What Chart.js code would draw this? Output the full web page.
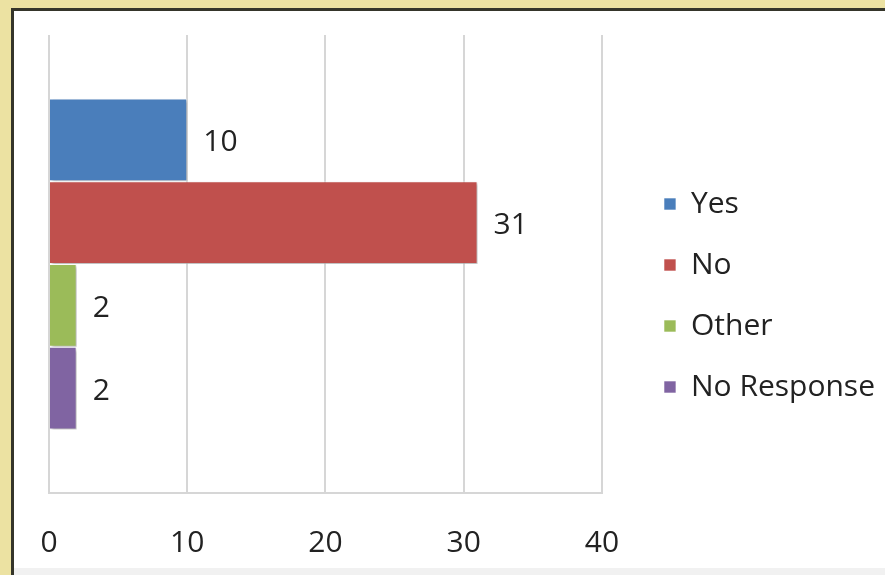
<!DOCTYPE html>
<html>
<head>
<meta charset="utf-8">
<script src="https://cdn.jsdelivr.net/npm/chart.js@4"></script>
<style>
  html, body { margin: 0; padding: 0; }
  body { width: 885px; height: 575px; background: #ece2a2; position: relative; overflow: hidden; }
  #frame {
    position: absolute; left: 11px; top: 8px; right: 0; bottom: 0;
    border-left: 3px solid #35352a; border-top: 3px solid #35352a;
    background: #f1f1f1;
  }
  #box { position: absolute; left: 0; top: 0; width: 871px; height: 557px; background: #fff; }
</style>
</head>
<body>
<div id="frame"><div id="box"><canvas id="chart" width="871" height="557"></canvas></div></div>
<script>
const categories = ['Responses'];
const seriesNames = ['Yes', 'No', 'Other', 'No Response'];
const seriesValues = [[10], [31], [2], [2]];
const seriesColors = ['#4a7ebb', '#c0504d', '#9bbb59', '#8064a2'];
const xTicks = [0, 10, 20, 30, 40];

const FONT = '"Open Sans", sans-serif';
const FONT_SIZE = 30;
const TEXT_COLOR = '#222';

// soft drop shadow under the bars
const barShadow = {
    id: 'barShadow',
    beforeDatasetsDraw(chart) {
        const ctx = chart.ctx;
        ctx.save();
        ctx.shadowColor = 'rgba(0,0,0,0.28)';
        ctx.shadowBlur = 3;
        ctx.shadowOffsetX = 2;
        ctx.shadowOffsetY = 2;
    },
    afterDatasetsDraw(chart) {
        chart.ctx.restore();
    }
};

// value labels just past the end of each bar
const valueLabels = {
    id: 'valueLabels',
    afterDraw(chart) {
        const ctx = chart.ctx;
        ctx.save();
        ctx.font = FONT_SIZE + 'px ' + FONT;
        ctx.fillStyle = TEXT_COLOR;
        ctx.textAlign = 'left';
        ctx.textBaseline = 'middle';
        chart.data.datasets.forEach((ds, i) => {
            chart.getDatasetMeta(i).data.forEach((bar, j) => {
                ctx.fillText(String(ds.data[j]), bar.x + 16, bar.y + 3);
            });
        });
        ctx.restore();
    }
};

// leave a gap between the plot and the legend
const legendGap = {
    id: 'legendGap',
    afterLayout(chart) {
        const lg = chart.legend;
        const shift = chart.chartArea.right + 31 - lg.left;
        lg.left += shift;
        lg.right += shift;
    }
};

new Chart(document.getElementById('chart'), {
    type: 'bar',
    data: {
        labels: categories,
        datasets: seriesNames.map((name, i) => ({
            label: name,
            data: seriesValues[i],
            backgroundColor: seriesColors[i],
            borderColor: 'rgba(255,255,255,0.6)',
            borderWidth: 1,
            categoryPercentage: 0.723,
            barPercentage: 1
        }))
    },
    options: {
        indexAxis: 'y',
        responsive: false,
        animation: false,
        layout: { padding: { left: 35, top: 24, right: 31, bottom: 12 } },
        scales: {
            x: {
                min: 0,
                max: 40,
                afterBuildTicks(scale) { scale.ticks = xTicks.map(v => ({ value: v })); },
                afterFit(scale) {
                    scale.height = 63;
                    scale.paddingLeft = 0;
                    scale.paddingRight = 0;
                },
                grid: { color: '#d6d6d6', lineWidth: 2, drawTicks: false },
                border: { color: '#d6d6d6', width: 2 },
                ticks: { color: TEXT_COLOR, padding: 32, font: { family: FONT, size: FONT_SIZE } }
            },
            y: { display: false }
        },
        plugins: {
            legend: {
                position: 'right',
                labels: {
                    boxWidth: 12,
                    boxHeight: 12,
                    padding: 31,
                    color: TEXT_COLOR,
                    font: { family: FONT, size: FONT_SIZE }
                }
            },
            tooltip: { enabled: false }
        }
    },
    plugins: [barShadow, valueLabels, legendGap]
});
</script>
</body>
</html>
